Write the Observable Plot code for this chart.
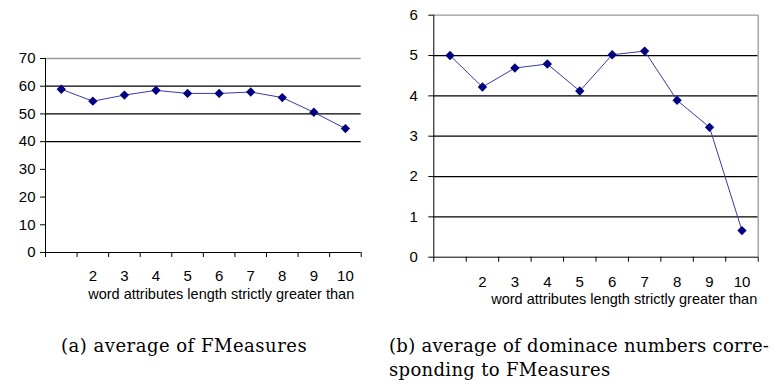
<!DOCTYPE html>
<html><head><meta charset="utf-8">
<script src="https://cdn.jsdelivr.net/npm/d3@7"></script>
<script src="https://cdn.jsdelivr.net/npm/@observablehq/plot@0.6"></script>
<style>
body{margin:0;background:#fff;}
#wrap{position:relative;width:784px;height:388px;overflow:hidden;background:#fff;}
#a{position:absolute;left:0;top:0;}
#b{position:absolute;left:380px;top:0;}
.cap{position:absolute;font-family:"DejaVu Serif",serif;font-size:18px;letter-spacing:0.5px;line-height:24px;color:#000;white-space:nowrap;}
.capb{letter-spacing:0.32px;}
</style></head><body>
<div id="wrap"><div id="a"></div><div id="b"></div>
<div class="cap" style="left:61px;top:334px">(a) average of FMeasures</div>
<div class="cap capb" style="left:389px;top:334px">(b) average of dominace numbers corre-</div>
<div class="cap capb" style="left:389px;top:358px">sponding to FMeasures</div>
</div>
<script>
const categories = [1,2,3,4,5,6,7,8,9,10];
const xTickLabels = [2,3,4,5,6,7,8,9,10];
const fmeasure = [58.9,54.6,56.8,58.5,57.4,57.4,57.9,55.9,50.6,44.7];
const dominance = [5.0,4.22,4.69,4.79,4.12,5.02,5.11,3.89,3.22,0.66];
const yTicksA = [0,10,20,30,40,50,60,70];
const gridA = [40,50,60];
const yTicksB = [0,1,2,3,4,5,6];
const gridB = [1,2,3,4,5];
const xTitle = "word attributes length strictly greater than";

function chart(o) {
  const data = categories.map((c,i)=>({c, v: o.values[i]}));
  const bounds = [categories[0]-0.5, ...categories.map(c=>c+0.5)];
  return Plot.plot({
    width: o.width, height: o.height,
    marginLeft: o.ml, marginTop: o.mt, marginBottom: o.mb, marginRight: o.mr,
    style: {fontFamily: "'Liberation Sans', Arial, sans-serif", fontSize: "15px", color:"#000", background:"#fff"},
    x: {type:"linear", domain:[bounds[0], bounds[bounds.length-1]]},
    y: {domain:[0, o.yMax]},
    marks: [
      Plot.ruleY(o.grid, {stroke:"#000", strokeWidth:1.3}),
      Plot.ruleY([o.yMax], {stroke:"#999", strokeWidth:1.3}),
      o.rightBorder ? Plot.ruleX([bounds[bounds.length-1]], {stroke:"#999", strokeWidth:1.3}) : null,
      Plot.axisY({ticks: o.yTicks, tickSize:5, tickPadding: o.yPad, tickFormat: d=>String(d), label:null}),
      Plot.ruleX([bounds[0]], {stroke:"#000"}),
      Plot.ruleY([0], {stroke:"#000"}),
      Plot.axisX({ticks: bounds, tickSize:5, tickFormat: ()=>"", label:null}),
      Plot.axisX({ticks: xTickLabels, tickSize:0, tickPadding: o.xPad, tickFormat: d=>String(d), label:null}),
      Plot.line(data, {x:"c", y:"v", stroke:"#3a3aa8", strokeWidth:1}),
      Plot.dot(data, {x:"c", y:"v", symbol:"diamond2", r:4.2, fill:"#000080", stroke:"none"}),
      Plot.text([xTitle], {text: d=>d, frameAnchor:"bottom-right", dy: o.titleDy, dx: o.titleDx, textAnchor:"end", fontSize: 14.5, fill:"#000"})
    ]
  });
}

document.getElementById("a").append(chart({
  values: fmeasure, yTicks: yTicksA, grid: gridA, yMax: 70,
  width: 380, height: 310, ml: 45, mt: 58, mb: 58, mr: 19.3,
  yPad: 5, xPad: 18, titleDy: 46, titleDx: -7, rightBorder: false
}));
document.getElementById("b").append(chart({
  values: dominance, yTicks: yTicksB, grid: gridB, yMax: 6,
  width: 404, height: 310, ml: 53.3, mt: 14.7, mb: 53.3, mr: 26.3,
  yPad: 11, xPad: 19, titleDy: 47, titleDx: -1, rightBorder: true
}));
</script>
</body></html>
